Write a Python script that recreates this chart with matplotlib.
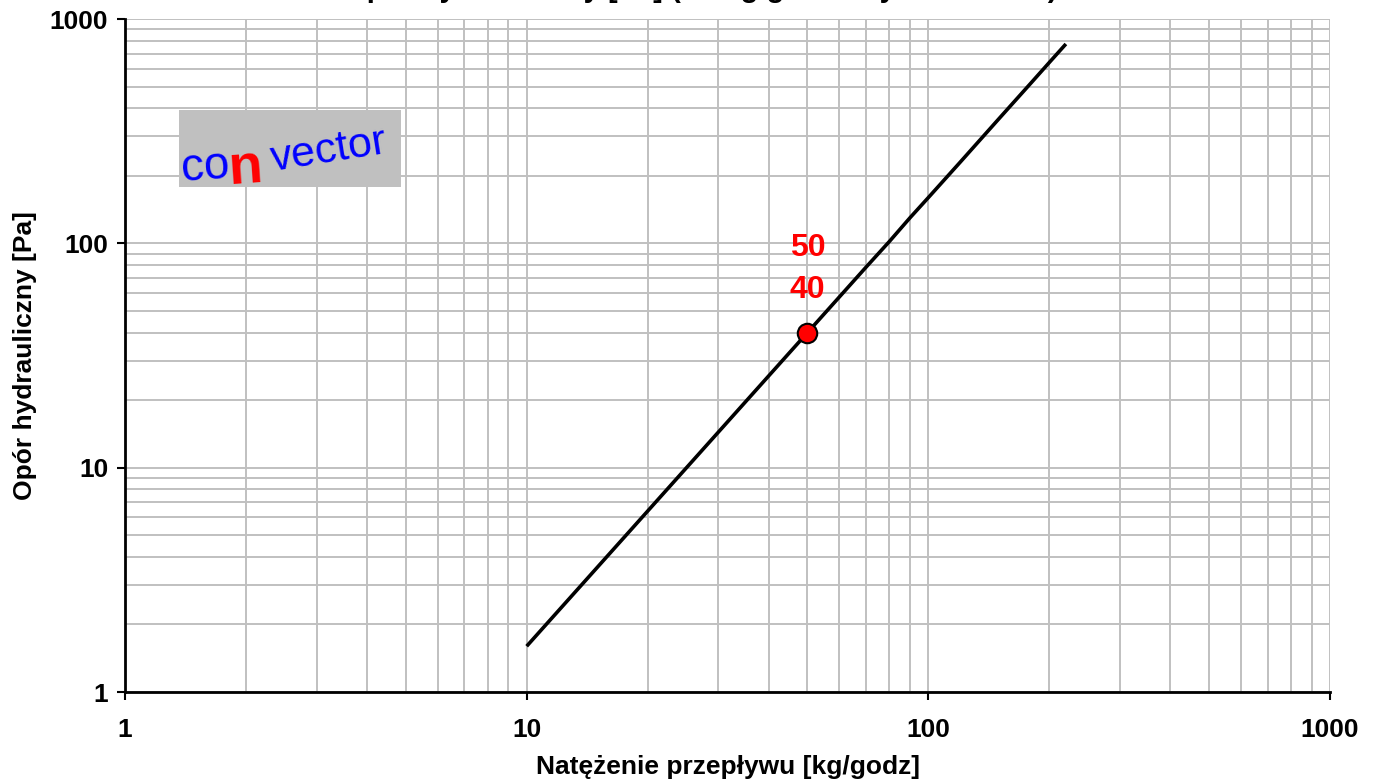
import matplotlib
matplotlib.use('Agg')
import matplotlib.pyplot as plt
from matplotlib.ticker import LogLocator, NullFormatter, FixedLocator, FixedFormatter
from matplotlib.patches import Rectangle

plt.rcParams['font.family'] = ['Liberation Sans', 'DejaVu Sans']

# Flow rate [kg/godz] vs hydraulic resistance [Pa]
flow = [10, 15, 20, 25, 30, 40, 50, 60, 70, 80, 90, 100, 120, 150, 180, 200, 220]
resistance = [1.6, 3.6, 6.4, 10, 14.4, 25.6, 40, 57.6, 78.4, 102, 130, 160, 230, 360, 518, 640, 774]

# Operating point
point_flow = 50
point_res = 40
point_labels = ['50', '40']

ticks = [1, 10, 100, 1000]
tick_labels = ['1', '10', '100', '1000']

fig = plt.figure(figsize=(13.75, 7.8), dpi=100)
ax = fig.add_axes([0.0909, 0.1128, 0.8764, 0.8628])

ax.set_xscale('log')
ax.set_yscale('log')
ax.set_xlim(1, 1000)
ax.set_ylim(1, 1000)

# Grid
ax.xaxis.set_minor_locator(LogLocator(base=10, subs=range(2, 10)))
ax.yaxis.set_minor_locator(LogLocator(base=10, subs=range(2, 10)))
ax.xaxis.set_minor_formatter(NullFormatter())
ax.yaxis.set_minor_formatter(NullFormatter())
ax.grid(True, which='both', color='#c0c0c0', linewidth=1.4)
ax.set_axisbelow(True)

ax.xaxis.set_major_locator(FixedLocator(ticks))
ax.xaxis.set_major_formatter(FixedFormatter(tick_labels))
ax.yaxis.set_major_locator(FixedLocator(ticks))
ax.yaxis.set_major_formatter(FixedFormatter(tick_labels))
ax.tick_params(which='minor', length=0)
ax.tick_params(which='major', direction='out', length=6, width=1.5, labelsize=19)
ax.tick_params(axis='x', which='major', pad=13)
ax.tick_params(axis='y', which='major', pad=6)
for lab in ax.get_xticklabels() + ax.get_yticklabels():
    lab.set_fontweight('bold')

for s in ['top', 'right']:
    ax.spines[s].set_visible(False)
for s in ['left', 'bottom']:
    ax.spines[s].set_linewidth(2)

# Curve and point
ax.plot(flow, resistance, color='black', linewidth=2.6, solid_capstyle='butt', zorder=3)
ax.plot([point_flow], [point_res], 'o', markersize=14, markerfacecolor='red',
        markeredgecolor='black', markeredgewidth=1.5, zorder=4)
ax.annotate(point_labels[0], (point_flow, point_res), xytext=(0, 61), textcoords='offset points',
            ha='center', va='center', color='red', fontsize=23, fontweight='bold')
ax.annotate(point_labels[1], (point_flow, point_res), xytext=(0, 31), textcoords='offset points',
            ha='center', va='center', color='red', fontsize=23, fontweight='bold')

ax.set_xlabel('Natężenie przepływu [kg/godz]', fontsize=19, fontweight='bold', labelpad=9)
ax.set_ylabel('Opór hydrauliczny [Pa]', fontsize=19, fontweight='bold', labelpad=9)

# Title (cut off at the top edge in the original)
fig.text(0.51, 1.0035, 'Opór hydrauliczny [Pa] (obieg grzewczy Convector)', ha='center',
         va='baseline', fontsize=21, fontweight='bold')

# Logo box
fig.patches.append(Rectangle((179 / 1375, 1 - 187 / 780), 222 / 1375, 77 / 780,
                             transform=fig.transFigure, facecolor='#c0c0c0', edgecolor='none', zorder=5))
fig.text(180 / 1375, 1 - 181 / 780, 'co', color='#0000ff', fontsize=33, rotation=4, zorder=6)
fig.text(226 / 1375, 1 - 184 / 780, 'n', color='red', fontsize=40, fontweight='bold', rotation=4, zorder=6)
fig.text(268 / 1375, 1 - 171 / 780, 'vector', color='#0000ff', fontsize=31, rotation=9, zorder=6)

fig.savefig('out.png', dpi=100)
